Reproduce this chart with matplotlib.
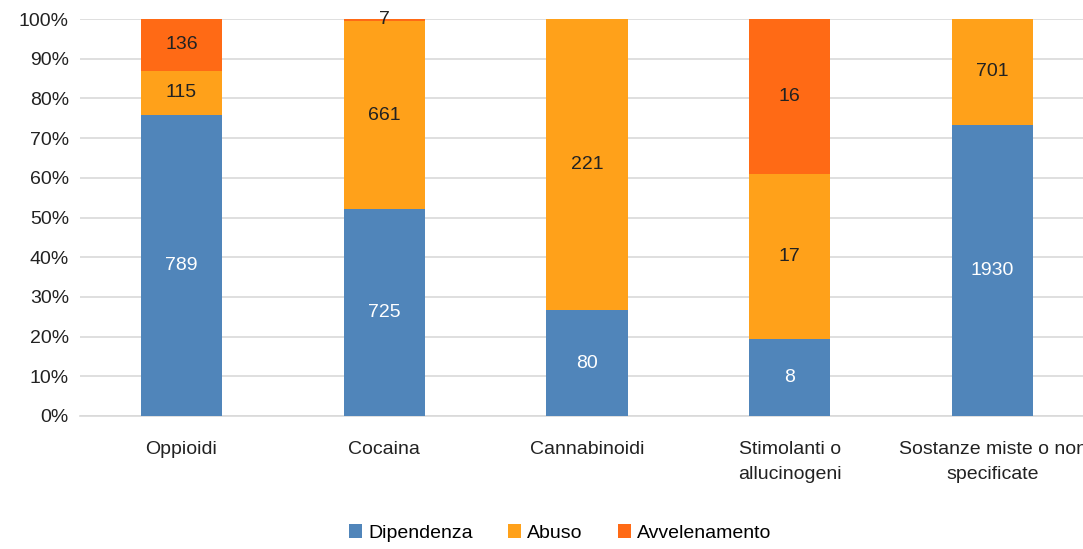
import numpy as np
import matplotlib
matplotlib.use("Agg")
import matplotlib.pyplot as plt
from matplotlib import font_manager

categories = ["Oppioidi", "Cocaina", "Cannabinoidi", "Stimolanti o\nallucinogeni",
              "Sostanze miste o non\nspecificate"]
dipendenza = [789, 725, 80, 8, 1930]
abuso = [115, 661, 221, 17, 701]
avvelenamento = [136, 7, 0, 16, 0]

series_names = ["Dipendenza", "Abuso", "Avvelenamento"]
colors = ["#5085BA", "#FFA11A", "#FF6A15"]
text_colors = ["white", "#222222", "#222222"]

names = {f.name for f in font_manager.fontManager.ttflist}
fam = "Liberation Sans Narrow" if "Liberation Sans Narrow" in names else "Liberation Sans"
plt.rcParams["font.family"] = [fam, "DejaVu Sans"]

data = np.array([dipendenza, abuso, avvelenamento], dtype=float)
totals = data.sum(axis=0)
shares = data / totals * 100

fig = plt.figure(figsize=(10.83, 5.49), dpi=100)
ax = fig.add_axes([80 / 1083, 1 - 416 / 549, (1094 - 80) / 1083, (416 - 19) / 549])

x = np.arange(len(categories))
bottom = np.zeros(len(categories))
for i in range(3):
    ax.bar(x, shares[i], 0.4, bottom=bottom, color=colors[i], label=series_names[i], zorder=3)
    for j in range(len(categories)):
        if data[i, j] > 0:
            ax.text(x[j], bottom[j] + shares[i, j] / 2, f"{int(data[i, j])}",
                    ha="center", va="center", fontsize=14, color=text_colors[i], zorder=4)
    bottom += shares[i]

ax.set_xlim(-0.5, len(categories) - 0.5)
ax.set_ylim(0, 100)
ax.set_yticks(np.arange(0, 101, 10))
ax.set_yticklabels([f"{v}%" for v in range(0, 101, 10)])
ax.grid(axis="y", color="#D9D9D9", linewidth=1.2, zorder=0)
ax.set_xticks(x)
ax.set_xticklabels(categories, fontsize=14, color="#222222", va="top", linespacing=1.6)
ax.tick_params(axis="y", labelsize=14, colors="#222222", length=0, pad=8)
ax.tick_params(axis="x", length=0, pad=18)
for s in ["top", "right", "left"]:
    ax.spines[s].set_visible(False)
ax.spines["bottom"].set_color("#D9D9D9")
ax.spines["bottom"].set_linewidth(1.2)

fig.legend(loc="center", bbox_to_anchor=(560 / 1083, 1 - 533 / 549), ncol=3, frameon=False,
           fontsize=14, handlelength=0.7, handleheight=0.7, handletextpad=0.3, columnspacing=1.8)

fig.savefig("out.png", dpi=100)
